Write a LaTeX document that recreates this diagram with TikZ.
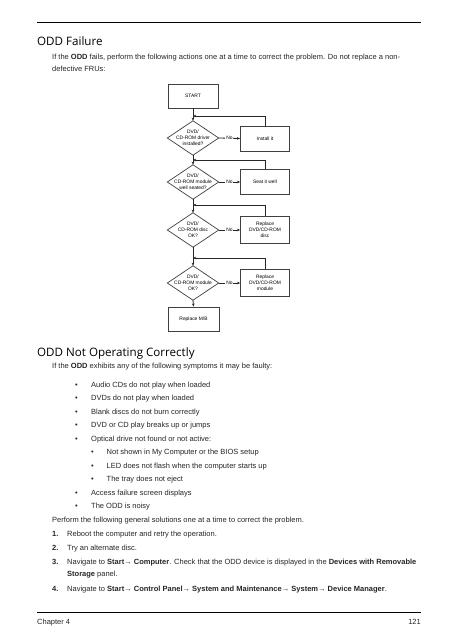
\documentclass[tikz,border=0pt]{standalone}
\usepackage{fontspec}
\setmainfont{Liberation Sans}
\newfontfamily\headfont{Open Sans}
\usetikzlibrary{arrows.meta}
\begin{document}
\begin{tikzpicture}[x=1pt,y=-1pt,
  txt/.style={anchor=base west, inner sep=0pt, font=\fontsize{7.5}{9}\selectfont, text=black!85},
  txtr/.style={anchor=base east, inner sep=0pt, font=\fontsize{7.5}{9}\selectfont, text=black!85},
  head/.style={anchor=base west, inner sep=0pt, font=\headfont\fontsize{11.6}{14}\selectfont},
  fbox/.style={draw=black!75, line width=0.7pt, minimum width=49pt, minimum height=25pt, align=center, inner sep=0pt, font=\fontsize{4.9}{6.2}\selectfont},
  dia/.style={minimum width=51pt, minimum height=34pt, inner sep=0pt},
  dline/.style={draw=black!75, line width=0.7pt},
  ftxt/.style={align=center, inner sep=0pt, font=\fontsize{4.9}{6.2}\selectfont},
  flow/.style={draw=black!85, line width=0.8pt, -{Stealth[length=3.2pt,width=2.6pt]}},
  nolab/.style={fill=white, inner sep=0.8pt, font=\fontsize{4.9}{5.5}\selectfont},
]
\useasboundingbox (0,0) rectangle (457,640);
\fill[white] (0,0) rectangle (457,640);

% header rule and section 1
\draw[line width=0.9pt] (37,22) -- (421,22);
\node[head] (t1) at (37,45) {ODD Failure};
\node[txt] (p1) at (52,59) {If the \textbf{ODD} fails, perform the following actions one at a time to correct the problem. Do not replace a non-};
\node[txt] (p2) at (52,71) {defective FRUs:};

% flowchart
\node[fbox, minimum width=50pt, minimum height=24pt] (start) at (193,96) {START};

\node[dia] (d1) at (193,138) {};
\draw[dline] (d1.north) -- (d1.east) -- (d1.south) -- (d1.west) -- cycle;
\node[ftxt] (d1t) at (d1.center) {DVD/\\CD-ROM driver\\installed?};
\node[fbox] (b1) at (265,138.5) {Install it};
\coordinate (j1) at (193,116);

\node[dia] (d2) at (193,182) {};
\draw[dline] (d2.north) -- (d2.east) -- (d2.south) -- (d2.west) -- cycle;
\node[ftxt] (d2t) at (d2.center) {DVD/\\CD-ROM module\\well seated?};
\node[fbox] (b2) at (265,182) {Seat it well};
\coordinate (j2) at (193,160);

\node[dia] (d3) at (193,230) {};
\draw[dline] (d3.north) -- (d3.east) -- (d3.south) -- (d3.west) -- cycle;
\node[ftxt] (d3t) at (d3.center) {DVD/\\CD-ROM disc\\OK?};
\node[fbox, minimum height=27pt] (b3) at (265,230) {Replace\\DVD/CD-ROM\\disc};
\coordinate (j3) at (193,205);

\node[dia] (d4) at (193,283) {};
\draw[dline] (d4.north) -- (d4.east) -- (d4.south) -- (d4.west) -- cycle;
\node[ftxt] (d4t) at (d4.center) {DVD/\\CD-ROM module\\OK?};
\node[fbox, minimum height=27pt] (b4) at (265,283) {Replace\\DVD/CD-ROM\\module};
\coordinate (j4) at (193,258);

\node[fbox, minimum width=51pt, minimum height=24pt] (mb) at (193.5,319) {Replace M/B};

\draw[flow] (start.south) -- (d1.north);
\draw[flow] (d1.south) -- (d2.north);
\draw[flow] (d2.south) -- (d3.north);
\draw[flow] (d3.south) -- (d4.north);
\draw[flow] (d4.south) -- (mb.north);

\draw[flow] (d1.east) -- node[nolab] {No} (b1.west);
\draw[flow] (d2.east) -- node[nolab] {No} (b2.west);
\draw[flow] (d3.east) -- node[nolab] {No} (b3.west);
\draw[flow] (d4.east) -- node[nolab] {No} (b4.west);

\draw[flow] (b1.north) |- (j1);
\draw[flow] (b2.north) |- (j2);
\draw[flow] (b3.north) |- (j3);
\draw[flow] (b4.north) |- (j4);

% section 2
\node[head] (t2) at (37,356) {ODD Not Operating Correctly};
\node[txt] (q1) at (52,368.5) {If the \textbf{ODD} exhibits any of the following symptoms it may be faulty:};

\node[txt] (u1) at (75,387.2) {•};  \node[txt] (l1) at (91,387.2) {Audio CDs do not play when loaded};
\node[txt] (u2) at (75,400.7) {•};  \node[txt] (l2) at (91,400.7) {DVDs do not play when loaded};
\node[txt] (u3) at (75,414.2) {•};  \node[txt] (l3) at (91,414.2) {Blank discs do not burn correctly};
\node[txt] (u4) at (75,427.7) {•};  \node[txt] (l4) at (91,427.7) {DVD or CD play breaks up or jumps};
\node[txt] (u5) at (75,441.2) {•};  \node[txt] (l5) at (91,441.2) {Optical drive not found or not active:};
\node[txt] (u6) at (91,454.7) {•};  \node[txt] (l6) at (106.5,454.7) {Not shown in My Computer or the BIOS setup};
\node[txt] (u7) at (91,468.2) {•};  \node[txt] (l7) at (106.5,468.2) {LED does not flash when the computer starts up};
\node[txt] (u8) at (91,481.7) {•};  \node[txt] (l8) at (106.5,481.7) {The tray does not eject};
\node[txt] (u9) at (75,495.2) {•};  \node[txt] (l9) at (91,495.2) {Access failure screen displays};
\node[txt] (u10) at (75,508.7) {•}; \node[txt] (l10) at (91,508.7) {The ODD is noisy};

\node[txt] (r0) at (52,522.5) {Perform the following general solutions one at a time to correct the problem.};
\node[txt] (n1) at (52,536.5) {\textbf{1.}}; \node[txt] (r1) at (67,536.5) {Reboot the computer and retry the operation.};
\node[txt] (n2) at (52,550.5) {\textbf{2.}}; \node[txt] (r2) at (67,550.5) {Try an alternate disc.};
\node[txt] (n3) at (52,564.5) {\textbf{3.}}; \node[txt] (r3) at (67,564.5) {Navigate to \textbf{Start}→ \textbf{Computer}. Check that the ODD device is displayed in the \textbf{Devices with Removable}};
\node[txt] (r3b) at (67,576.5) {\textbf{Storage} panel.};
\node[txt] (n4) at (52,591.5) {\textbf{4.}}; \node[txt] (r4) at (67,591.5) {Navigate to \textbf{Start}→ \textbf{Control Panel}→ \textbf{System and Maintenance}→ \textbf{System}→ \textbf{Device Manager}.};

% footer
\draw[line width=0.9pt] (37,612) -- (421,612);
\node[txt] (f1) at (37,624.5) {Chapter 4};
\node[txtr] (f2) at (421,624.5) {121};
\end{tikzpicture}
\end{document}
